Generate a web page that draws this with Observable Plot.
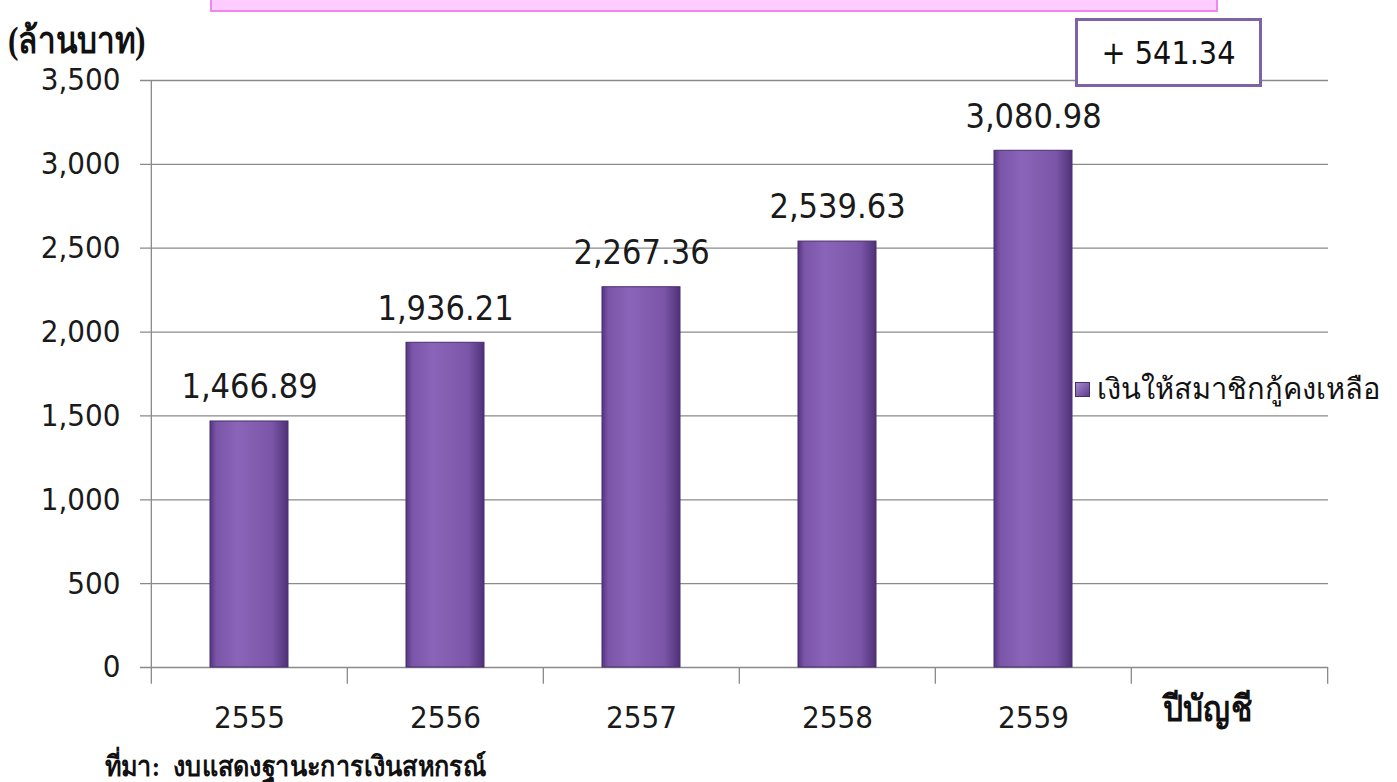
<!DOCTYPE html>
<html>
<head>
<meta charset="utf-8">
<script src="https://cdn.jsdelivr.net/npm/d3@7"></script>
<script src="https://cdn.jsdelivr.net/npm/@observablehq/plot@0.6"></script>
<style>
  html, body { margin: 0; padding: 0; background: #fff; }
  #wrap { position: relative; width: 1397px; height: 782px; overflow: hidden; font-family: "DejaVu Sans Condensed", "DejaVu Sans", sans-serif; font-stretch: condensed; }
  .abs { position: absolute; white-space: nowrap; }
  #unit { left: 8px; top: 10px; font-size: 37px; font-weight: bold; color: #111; font-family: "Liberation Serif", serif; transform: scaleX(0.85); transform-origin: left top; }
  #xname { left: 1163px; top: 680px; font-size: 36px; font-weight: bold; color: #111; font-family: "Liberation Serif", serif; transform: scaleX(0.88); transform-origin: left top; }
  #source { left: 105px; top: 744px; font-size: 28px; font-weight: bold; color: #111; font-family: "Liberation Serif", serif; transform: scaleX(0.9); transform-origin: left top; }
  #banner { left: 210px; top: -4px; width: 1004px; height: 12px; background: #ffccff; border: 2px solid #ee88ee; }
  #delta { left: 1075px; top: 18px; width: 181px; height: 63px; border: 3px solid #7e62a8; background: #fff; font-size: 32px; color: #111; display: flex; align-items: center; justify-content: center; }
  #legend { left: 1075px; top: 366px; font-size: 29px; color: #111; display: flex; align-items: center; gap: 7px; font-family: "DejaVu Sans Condensed", "DejaVu Sans", sans-serif; }
  #legend .sw { width: 13px; height: 13px; background: linear-gradient(135deg, #a58ad0, #5e3d8a); border: 1px solid #4a2d6e; }
</style>
</head>
<body>
<svg width="0" height="0" style="position:absolute">
  <defs>
    <linearGradient id="barGrad" x1="0" x2="1" y1="0" y2="0">
      <stop offset="0%" stop-color="#553580"/>
      <stop offset="8%" stop-color="#7a55a8"/>
      <stop offset="35%" stop-color="#8a64b8"/>
      <stop offset="80%" stop-color="#7b56a8"/>
      <stop offset="100%" stop-color="#4f3178"/>
    </linearGradient>
  </defs>
</svg>
<div id="wrap">
  <div class="abs" id="banner"></div>
  <div class="abs" id="unit">(ล้านบาท)</div>
  <div class="abs" id="delta">+ 541.34</div>
  <div class="abs" id="legend"><span class="sw"></span><span>เงินให้สมาชิกกู้คงเหลือ</span></div>
  <div class="abs" id="xname">ปีบัญชี</div>
  <div class="abs" id="source">ที่มา:&nbsp; งบแสดงฐานะการเงินสหกรณ์</div>
  <div id="chart"></div>
</div>
<script>
const years = ["2555", "2556", "2557", "2558", "2559"];
const values = [1466.89, 1936.21, 2267.36, 2539.63, 3080.98];
const categories = [...years, ""];
const yTicks = [0, 500, 1000, 1500, 2000, 2500, 3000, 3500];

const data = years.map((y, i) => ({year: y, value: values[i]}));

const W = 1397, H = 782;
const mL = 150, mR = 69, mT = 80, mB = 115;
const step = (W - mL - mR) / categories.length;
const boundaries = categories.map(c => ({c, dx: -step / 2})).concat([{c: "", dx: step / 2}]);
const fmt = d3.format(",.2f");
const font = "'DejaVu Sans Condensed', 'DejaVu Sans', sans-serif";

const chart = Plot.plot({
  width: W, height: H,
  marginLeft: mL, marginRight: mR, marginTop: mT, marginBottom: mB,
  style: {fontFamily: font, fontStretch: "condensed", background: "transparent", overflow: "visible"},
  x: {domain: categories, paddingInner: 0.6, paddingOuter: 0.3, label: null},
  y: {domain: [0, 3500], label: null},
  marks: [
    Plot.ruleY(yTicks, {stroke: "#8a8a8a", strokeWidth: 1.3, insetLeft: -10}),
    Plot.ruleX(boundaries.slice(0, 1), {x: "c", dx: -step / 2, y1: 0, y2: 3500, stroke: "#8a8a8a", strokeWidth: 1.3}),
    ...boundaries.map(b => Plot.ruleX([b], {x: "c", dx: b.dx, y1: 0, y2: -100, stroke: "#8a8a8a", strokeWidth: 1.3})),
    Plot.axisY({ticks: yTicks, tickSize: 0, tickPadding: 30, tickFormat: d3.format(","), fontSize: 31, fill: "#1a1a1a", label: null}),
    Plot.axisX({tickSize: 0, tickPadding: 38, fontSize: 31, fill: "#1a1a1a", label: null}),
    Plot.barY(data, {x: "year", y: "value", fill: "url(#barGrad)", stroke: "#4a2d6e", strokeWidth: 1}),
    Plot.text(data, {x: "year", y: "value", text: d => fmt(d.value), dy: -34, fontSize: 34, fill: "#1a1a1a"})
  ]
});
document.getElementById("chart").appendChild(chart);
</script>
</body>
</html>
